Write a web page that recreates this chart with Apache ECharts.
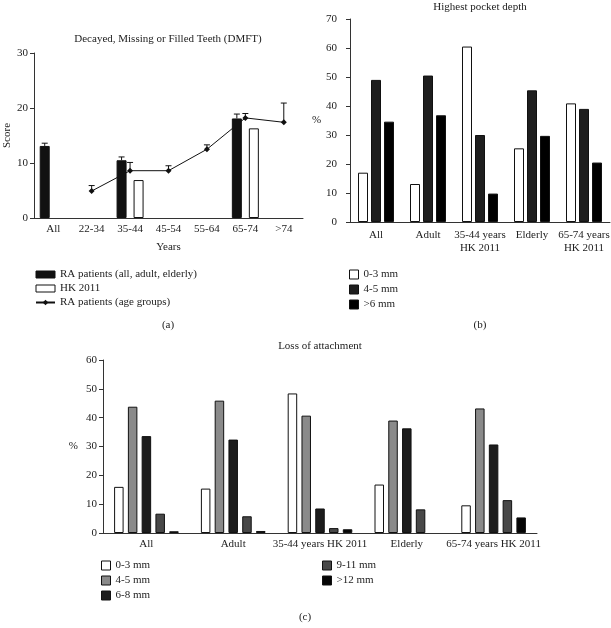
<!DOCTYPE html>
<html>
<head>
<meta charset="utf-8">
<script src="https://cdn.jsdelivr.net/npm/echarts@6/dist/echarts.min.js"></script>
<style>
  html, body { margin: 0; padding: 0; background: #fff; }
  #chart { width: 611px; height: 628px; }
</style>
</head>
<body>
<div id="chart"></div>
<script>
// (a) DMFT score
const dmftCats = ['All', '22-34', '35-44', '45-54', '55-64', '65-74', '>74'];
const raGroups = [13.1, null, 10.5, null, null, 18.1, null];
const raGroupsTop = [13.6, null, 11.1, null, null, 18.9, null];
const hk2011 = [null, null, 6.9, null, null, 16.3, null];
const raAge = [null, 4.9, 8.6, 8.6, 12.5, 18.2, 17.4];
const raAgeTop = [null, 5.9, 10.1, 9.5, 13.3, 19.0, 20.9];

// (b) highest pocket depth, %
const pocketCats = ['All', 'Adult', '35-44 years\nHK 2011', 'Elderly', '65-74 years\nHK 2011'];
const pocket0to3 = [17.0, 13.1, 60.5, 25.4, 40.9];
const pocket4to5 = [49.0, 50.5, 30.0, 45.4, 39.0];
const pocketOver6 = [34.6, 36.8, 9.8, 29.7, 20.5];

// (c) loss of attachment, %
const lossCats = ['All', 'Adult', '35-44 years HK 2011', 'Elderly', '65-74 years HK 2011'];
const loss0to3 = [16.0, 15.4, 48.4, 16.8, 9.6];
const loss4to5 = [43.8, 45.9, 40.7, 39.0, 43.2];
const loss6to8 = [33.6, 32.4, 8.5, 36.3, 30.7];
const loss9to11 = [6.7, 5.8, 1.7, 8.2, 11.4];
const lossOver12 = [0.6, 0.7, 1.3, null, 5.4];

const FONT = 'Liberation Serif';
const TXT = '#222';
const AXIS = '#333';

const chart = echarts.init(document.getElementById('chart'));

function xCat(gridIndex, data, margin, lineHeight) {
  return {
    type: 'category', gridIndex, data,
    axisLine: { lineStyle: { color: AXIS, width: 1 } },
    axisTick: { show: false },
    axisLabel: { color: TXT, fontFamily: FONT, fontSize: 11, margin, lineHeight: lineHeight || 13, interval: 0 },
    splitLine: { show: false }
  };
}

function yVal(gridIndex, max, name, nameGap, rotate, margin) {
  return {
    type: 'value', gridIndex, min: 0, max, interval: 10,
    name, nameLocation: 'middle', nameGap, nameRotate: rotate,
    nameTextStyle: { color: TXT, fontFamily: FONT, fontSize: 11 },
    axisLine: { show: true, lineStyle: { color: AXIS, width: 1 } },
    axisTick: { show: true, length: 4, lineStyle: { color: AXIS } },
    axisLabel: { color: TXT, fontFamily: FONT, fontSize: 11, margin },
    splitLine: { show: false }
  };
}

// whiskers drawn upward only, dx shifts them onto the bar
function whiskers(axis, lows, highs, dx, cap) {
  const data = [];
  lows.forEach((v, i) => { if (v != null) data.push([i, v, highs[i]]); });
  return {
    type: 'custom', xAxisIndex: axis, yAxisIndex: axis, z: 6, silent: true,
    encode: { x: 0, y: [1, 2] },
    data,
    renderItem: function (params, api) {
      const p0 = api.coord([api.value(0), api.value(1)]);
      const p1 = api.coord([api.value(0), api.value(2)]);
      const x = p0[0] + dx;
      const st = { stroke: '#111', lineWidth: 1 };
      return {
        type: 'group', children: [
          { type: 'line', shape: { x1: x, y1: p0[1], x2: x, y2: p1[1] }, style: st },
          { type: 'line', shape: { x1: x - cap, y1: p1[1], x2: x + cap, y2: p1[1] }, style: st }
        ]
      };
    }
  };
}

function bar(name, axis, data, color, width, gap) {
  return {
    name, type: 'bar', xAxisIndex: axis, yAxisIndex: axis, data,
    barWidth: width, barGap: gap,
    itemStyle: { color, borderColor: '#111', borderWidth: 1 }
  };
}

const aBarW = 10, aGap = 7;

function label(text, x, y) {
  return {
    type: 'text', x, y,
    style: { text, fill: TXT, font: '11px "' + FONT + '"', align: 'center', verticalAlign: 'middle' }
  };
}

const legText = { color: TXT, fontFamily: FONT, fontSize: 11 };
const strip = n => n.slice(2);

chart.setOption({
  animation: false,
  backgroundColor: '#fff',
  grid: [
    { left: 34, top: 53, width: 269, height: 165, outerBoundsMode: 'none' },
    { left: 350, top: 19, width: 260, height: 203, outerBoundsMode: 'none' },
    { left: 103, top: 360, width: 434, height: 173, outerBoundsMode: 'none' }
  ],
  xAxis: [
    Object.assign(xCat(0, dmftCats, 5), {
      name: 'Years', nameLocation: 'middle', nameGap: 24,
      nameTextStyle: { color: TXT, fontFamily: FONT, fontSize: 11 }
    }),
    xCat(1, pocketCats, 7, 13),
    xCat(2, lossCats, 5)
  ],
  yAxis: [
    yVal(0, 30, 'Score', 21, 90, 6),
    yVal(1, 70, '%', 24, 0, 13),
    yVal(2, 60, '%', 25, 0, 6)
  ],
  legend: [
    {
      orient: 'vertical', left: 35, top: 269, padding: 0, itemGap: 3,
      itemWidth: 19, itemHeight: 7, textStyle: legText, selectedMode: false,
      itemStyle: { borderWidth: 1 },
      data: [
        { name: 'RA patients (all, adult, elderly)', icon: 'rect' },
        { name: 'HK 2011', icon: 'rect' },
        'RA patients (age groups)'
      ]
    },
    {
      orient: 'vertical', left: 349, top: 269, padding: 0, itemGap: 4,
      itemWidth: 9, itemHeight: 9, icon: 'rect', textStyle: legText, selectedMode: false,
      itemStyle: { borderWidth: 1 },
      formatter: strip,
      data: ['b:0-3 mm', 'b:4-5 mm', 'b:>6 mm']
    },
    {
      orient: 'vertical', left: 101, top: 560, padding: 0, itemGap: 4,
      itemWidth: 9, itemHeight: 9, icon: 'rect', textStyle: legText, selectedMode: false,
      itemStyle: { borderWidth: 1 },
      formatter: strip,
      data: ['c:0-3 mm', 'c:4-5 mm', 'c:6-8 mm']
    },
    {
      orient: 'vertical', left: 322, top: 560, padding: 0, itemGap: 4,
      itemWidth: 9, itemHeight: 9, icon: 'rect', textStyle: legText, selectedMode: false,
      itemStyle: { borderWidth: 1 },
      formatter: strip,
      data: ['c:9-11 mm', 'c:>12 mm']
    }
  ],
  graphic: [
    label('Decayed, Missing or Filled Teeth (DMFT)', 168, 39),
    label('Highest pocket depth', 480, 7),
    label('Loss of attachment', 320, 346),
    label('(a)', 168, 325),
    label('(b)', 480, 325),
    label('(c)', 305, 617)
  ],
  series: [
    bar('RA patients (all, adult, elderly)', 0, raGroups, '#111', aBarW, (aGap / aBarW * 100) + '%'),
    bar('HK 2011', 0, hk2011, '#fff', aBarW, (aGap / aBarW * 100) + '%'),
    {
      name: 'RA patients (age groups)', type: 'line', xAxisIndex: 0, yAxisIndex: 0,
      data: raAge, symbol: 'diamond', symbolSize: 6, z: 5,
      lineStyle: { color: '#111', width: 1 }, itemStyle: { color: '#111' }
    },
    whiskers(0, raGroups, raGroupsTop, -(aBarW + aGap) / 2, 3),
    whiskers(0, raAge, raAgeTop, 0, 3),

    bar('b:0-3 mm', 1, pocket0to3, '#fff', 10, '30%'),
    bar('b:4-5 mm', 1, pocket4to5, '#1e1e1e', 10, '30%'),
    bar('b:>6 mm', 1, pocketOver6, '#000', 10, '30%'),

    bar('c:0-3 mm', 2, loss0to3, '#fff', 9.5, '45%'),
    bar('c:4-5 mm', 2, loss4to5, '#8a8a8a', 9.5, '45%'),
    bar('c:6-8 mm', 2, loss6to8, '#1c1c1c', 9.5, '45%'),
    bar('c:9-11 mm', 2, loss9to11, '#484848', 9.5, '45%'),
    bar('c:>12 mm', 2, lossOver12, '#050505', 9.5, '45%')
  ]
});
</script>
</body>
</html>
